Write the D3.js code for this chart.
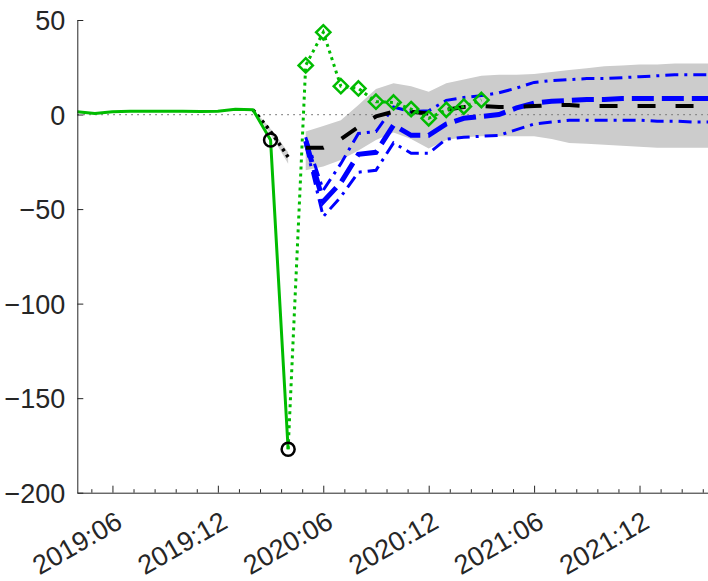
<!DOCTYPE html>
<html lang="en">
<head>
<meta charset="UTF-8">
<title>Forecast chart</title>
<script src="https://cdn.jsdelivr.net/npm/d3@7"></script>
<style>
    html, body { margin: 0; padding: 0; background: #fff; }
    svg { display: block; font-family: "Liberation Sans", Arial, sans-serif; }
    .axis path, .axis line { stroke: #262626; }
    .axis text { fill: #262626; font-size: 27px; }
</style>
</head>
<body>
<svg id="chart" width="708" height="581"></svg>
<script>
// observed series (solid green)
const actualMonths = ['2019:04','2019:05','2019:06','2019:07','2019:08','2019:09','2019:10',
    '2019:11','2019:12','2020:01','2020:02','2020:03','2020:04'];
const actualValues = [1.5, 0.5, 1.5, 1.8, 1.8, 1.8, 1.8, 1.6, 1.8, 2.8, 2.5, -13.5, -177];

// circled points
const circleMonths = ['2020:03','2020:04'];
const circleValues = [-13.5, -177];

// short nowcast (black dotted) and its band
const nowcastMonths = ['2020:02','2020:03','2020:04'];
const nowcastValues = [2.5, -9, -22.5];
const nowcastLow = [2.5, -10.5, -26];
const nowcastHigh = [2.5, -7.5, -20];

// realized values after the shock (green dotted with diamonds)
const realizedMonths = ['2020:04','2020:05','2020:06','2020:07','2020:08','2020:09','2020:10',
    '2020:11','2020:12','2021:01','2021:02','2021:03'];
const realizedValues = [-177, 26, 43.5, 15, 13.8, 6.8, 6.4, 2.9, -2, 2.5, 4.2, 7.7];

// forecast horizon
const forecastMonths = ['2020:05','2020:06','2020:07','2020:08','2020:09','2020:10','2020:11',
    '2020:12','2021:01','2021:02','2021:03','2021:04','2021:05','2021:06','2021:07','2021:08',
    '2021:09','2021:10','2021:11','2021:12','2022:01','2022:02','2022:03','2022:04'];
const medianValues = [-17.5, -17.5, -13, -6.5, -1, 1.5, 1.5, 0.5, 2.5, 4, 4.5, 4, 4, 4.5,
    5, 5, 4.5, 4.5, 4.5, 4.5, 4.5, 4.5, 4.5, 4.5];
const bandLow = [-29.5, -27.5, -24, -19, -13.5, -9.5, -13, -18, -13.5, -12, -11.5, -11.5,
    -11.5, -11.5, -13, -15, -15.5, -16, -16.5, -17, -17.5, -17.5, -17.5, -17.5];
const bandHigh = [-9, -6, -3, 5, 13.5, 16.5, 15, 12, 16.5, 18.5, 20.5, 21, 21, 21.5,
    22.5, 23.5, 24.5, 25.5, 26, 26.5, 26.5, 27, 27, 27];
const blueUpper = [-12, -40, -26, -10, -9, 4, 1.5, 2, 7.5, 9, 10, 11.5, 14, 17, 18, 18.5,
    19, 19, 19.5, 20, 20.5, 21, 21, 21];
const blueMid = [-14, -46, -36, -21, -20, -5.5, -11, -11, -5, -2, -1, 0, 3.5, 6, 7, 7.5,
    8, 8, 8.5, 8.5, 8.5, 8.5, 8.5, 8.5];
const blueLower = [-16, -54, -43.5, -30.5, -29.5, -15, -20.5, -20.5, -13, -12, -11.5, -11,
    -8, -5, -4, -3, -3, -3, -3, -3, -3.5, -3.5, -4, -4];

// axes
const xTickLabels = ['2019:06','2019:12','2020:06','2020:12','2021:06','2021:12'];
const yTickValues = [50, 0, -50, -100, -150, -200];

const green = 'rgb(0,188,0)';

// "YYYY:MM" -> months since 2019:01
function monthIndex(s) {
    const [y, m] = s.split(':').map(Number);
    return (y - 2019) * 12 + (m - 1);
}

const svg = d3.select('#chart');
const margin = { left: 77.3, top: 20, bottom: 492.7 };

const x = d3.scaleLinear()
    .domain([monthIndex('2019:04'), monthIndex('2022:04')])
    .range([margin.left, 709.8]);
const y = d3.scaleLinear()
    .domain([-200, 50])
    .range([margin.bottom, margin.top]);

const pts = (months, values) => months.map((m, i) => ({ x: monthIndex(m), y: values[i] }));
const line = d3.line().x(d => x(d.x)).y(d => y(d.y));
const area = d3.area().x(d => x(d.x)).y0(d => y(d.lo)).y1(d => y(d.hi));

const plot = svg.append('g');

// wide forecast band
plot.append('path')
    .attr('d', area(forecastMonths.map((m, i) => ({ x: monthIndex(m), lo: bandLow[i], hi: bandHigh[i] }))))
    .attr('fill', '#cccccc');

// nowcast band
const nowArea = d3.area().x(d => x(d.x)).y0(d => y(d.lo)).y1(d => y(d.hi)).curve(d3.curveMonotoneX);
plot.append('path')
    .attr('d', nowArea(nowcastMonths.map((m, i) => ({ x: monthIndex(m), lo: nowcastLow[i], hi: nowcastHigh[i] }))))
    .attr('fill', '#d0d0d0');

// zero reference
plot.append('line')
    .attr('x1', x.range()[0]).attr('x2', x.range()[1])
    .attr('y1', y(0)).attr('y2', y(0))
    .attr('stroke', '#777')
    .attr('stroke-width', 1.3)
    .attr('stroke-dasharray', '1.5,4.5');

// blue scenario lines
plot.append('path')
    .attr('d', line(pts(forecastMonths, blueLower)))
    .attr('fill', 'none').attr('stroke', '#0000ff')
    .attr('stroke-width', 3).attr('stroke-dasharray', '13,6,3,6');
plot.append('path')
    .attr('d', line(pts(forecastMonths, blueUpper)))
    .attr('fill', 'none').attr('stroke', '#0000ff')
    .attr('stroke-width', 3).attr('stroke-dasharray', '13,6,3,6');
plot.append('path')
    .attr('d', line(pts(forecastMonths, blueMid)))
    .attr('fill', 'none').attr('stroke', '#0000ff')
    .attr('stroke-width', 5).attr('stroke-dasharray', '22,8');

// median forecast
plot.append('path')
    .attr('d', line(pts(forecastMonths, medianValues)))
    .attr('fill', 'none').attr('stroke', '#000')
    .attr('stroke-width', 4).attr('stroke-dasharray', '18,20');

// nowcast dotted
plot.append('path')
    .attr('d', d3.line().x(d => x(d.x)).y(d => y(d.y)).curve(d3.curveMonotoneX)(pts(nowcastMonths, nowcastValues)))
    .attr('fill', 'none').attr('stroke', '#000')
    .attr('stroke-width', 3.5).attr('stroke-dasharray', '3,4');

// realized after shock
plot.append('path')
    .attr('d', line(pts(realizedMonths, realizedValues)))
    .attr('fill', 'none').attr('stroke', green)
    .attr('stroke-width', 3).attr('stroke-dasharray', '3,4');

// observed
plot.append('path')
    .attr('d', line(pts(actualMonths, actualValues)))
    .attr('fill', 'none').attr('stroke', green)
    .attr('stroke-width', 3).attr('stroke-linejoin', 'round');

// diamonds (skip the first realized point, it's the circled one)
plot.selectAll('.diamond')
    .data(pts(realizedMonths, realizedValues).slice(1))
    .enter().append('path')
    .attr('class', 'diamond')
    .attr('d', d3.symbol().type(d3.symbolDiamond2).size(130))
    .attr('transform', d => `translate(${x(d.x)},${y(d.y)})`)
    .attr('fill', 'none').attr('stroke', green).attr('stroke-width', 2.5);

// circles
plot.selectAll('.circ')
    .data(pts(circleMonths, circleValues))
    .enter().append('circle')
    .attr('class', 'circ')
    .attr('cx', d => x(d.x)).attr('cy', d => y(d.y))
    .attr('r', 6.5)
    .attr('fill', 'none').attr('stroke', '#000').attr('stroke-width', 2.5);

// y axis, ticks inward
const yAxis = svg.append('g')
    .attr('class', 'axis')
    .attr('transform', `translate(${margin.left},0)`)
    .call(d3.axisLeft(y).tickValues(yTickValues).tickSizeInner(-6).tickSizeOuter(0).tickPadding(12));
yAxis.selectAll('text').attr('dy', '0.36em');

// x axis minor ticks
const majorIdx = xTickLabels.map(monthIndex);
const minorIdx = d3.range(majorIdx[0] - 1.2, monthIndex('2022:04'), 1.2)
    .filter(v => v > monthIndex('2019:04') && !majorIdx.some(m => Math.abs(m - v) < 0.05));
svg.append('g')
    .attr('class', 'axis')
    .attr('transform', `translate(0,${margin.bottom})`)
    .call(d3.axisBottom(x).tickValues(minorIdx).tickSizeInner(-3.5).tickSizeOuter(0).tickFormat(''))
    .select('.domain').remove();

// x axis major ticks with rotated labels
const xAxis = svg.append('g')
    .attr('class', 'axis')
    .attr('transform', `translate(0,${margin.bottom})`)
    .call(d3.axisBottom(x).tickValues(majorIdx).tickSizeInner(-7).tickSizeOuter(0)
        .tickFormat((d, i) => xTickLabels[i]));
xAxis.selectAll('text')
    .attr('y', 0).attr('dy', 0)
    .attr('text-anchor', 'end')
    .attr('transform', 'translate(11,34) rotate(-30)');
</script>
</body>
</html>
